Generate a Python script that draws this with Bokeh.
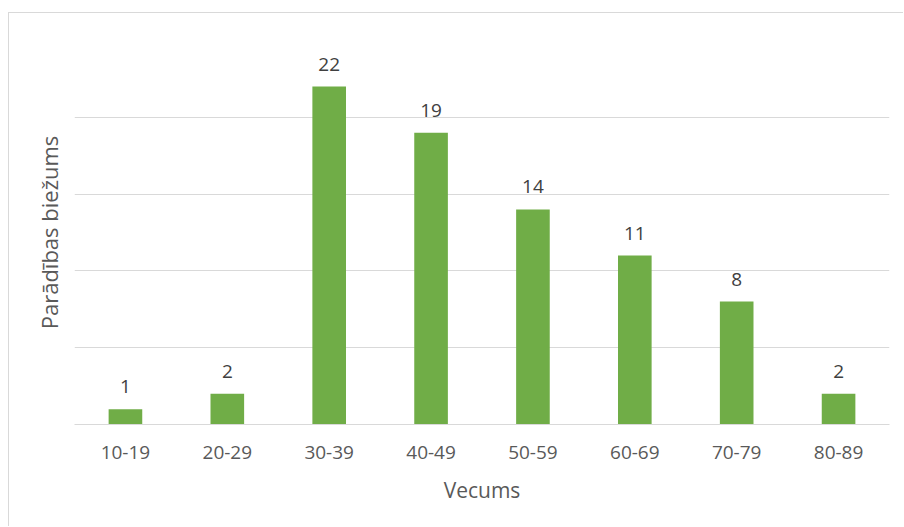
from bokeh.plotting import figure
from bokeh.models import ColumnDataSource, Range1d, FactorRange, FixedTicker, LabelSet
from bokeh.core.properties import value
from bokeh.embed import file_html
from bokeh.resources import INLINE

# Age groups and how many cases fall into each
age_groups = ["10-19", "20-29", "30-39", "40-49", "50-59", "60-69", "70-79", "80-89"]
counts = [1, 2, 22, 19, 14, 11, 8, 2]

source = ColumnDataSource(data=dict(
    age=age_groups,
    count=counts,
    label=[str(c) for c in counts],
))

FONT = "Open Sans"

p = figure(
    x_range=FactorRange(*age_groups, range_padding=0),
    y_range=Range1d(0, 25),
    width=895, height=514,
    output_backend="svg", toolbar_location=None,
    min_border_left=65, min_border_right=15,
    min_border_top=27, min_border_bottom=103,
)
p.margin = (12, 0, 0, 8)
p.styles = {"border-left": "1px solid #d9d9d9", "border-top": "1px solid #d9d9d9"}
p.outline_line_color = None
p.background_fill_color = "white"
p.border_fill_color = "white"

p.vbar(x="age", top="count", width=0.33, source=source,
       fill_color="#70ad47", line_color=None)

labels = LabelSet(x="age", y="count", text="label", source=source,
                  text_align="center", text_baseline="alphabetic", y_offset=16,
                  text_font=value(FONT), text_font_size="19px", text_color="#404040")
p.add_layout(labels)

# Horizontal gridlines every 5 units, no tick labels on the value axis
p.yaxis.ticker = FixedTicker(ticks=[0, 5, 10, 15, 20, 25])
p.ygrid.grid_line_color = "#d9d9d9"
p.ygrid.grid_line_width = 1
p.xgrid.grid_line_color = None

p.yaxis.axis_line_color = None
p.yaxis.major_tick_line_color = None
p.yaxis.minor_tick_line_color = None
p.yaxis.major_label_text_font_size = "0px"
p.yaxis.major_label_text_color = None
p.yaxis.axis_label = "Parādības biežums"
p.yaxis.axis_label_text_font = FONT
p.yaxis.axis_label_text_font_size = "22px"
p.yaxis.axis_label_text_font_style = "normal"
p.yaxis.axis_label_text_color = "#595959"
p.yaxis.axis_label_standoff = 5

p.xaxis.axis_line_color = "#d9d9d9"
p.xaxis.axis_line_width = 1
p.xaxis.major_tick_line_color = None
p.xaxis.minor_tick_line_color = None
p.xaxis.major_label_text_font = FONT
p.xaxis.major_label_text_font_size = "19px"
p.xaxis.major_label_text_color = "#595959"
p.xaxis.major_label_standoff = 15
p.xaxis.axis_label = "Vecums"
p.xaxis.axis_label_text_font = FONT
p.xaxis.axis_label_text_font_size = "21px"
p.xaxis.axis_label_text_font_style = "normal"
p.xaxis.axis_label_text_color = "#595959"
p.xaxis.axis_label_standoff = 14

open("out.html", "w").write(file_html(p, INLINE))
